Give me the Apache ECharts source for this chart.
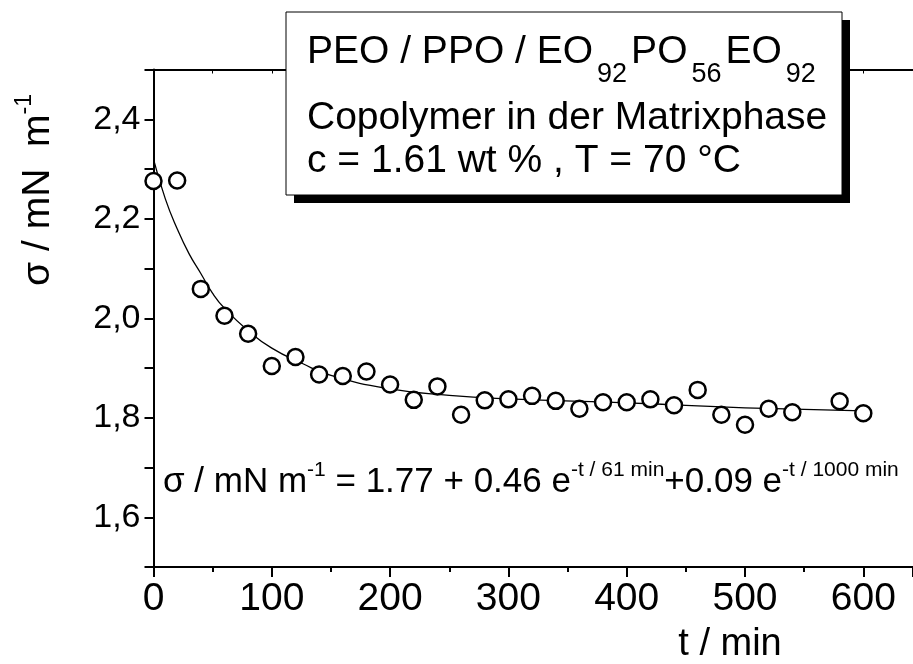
<!DOCTYPE html>
<html>
<head>
<meta charset="utf-8">
<script src="https://cdn.jsdelivr.net/npm/echarts@6/dist/echarts.min.js"></script>
<style>
  html, body { margin: 0; padding: 0; background: #fff; }
  #chart { width: 913px; height: 664px; }
</style>
</head>
<body>
<div id="chart"></div>
<script>
  // measured points
  const timeMin = [0, 20, 40, 60, 80, 100, 120, 140, 160, 180, 200, 220, 240, 260, 280,
    300, 320, 340, 360, 380, 400, 420, 440, 460, 480, 500, 520, 540, 580, 600];
  const sigma = [2.276, 2.277, 2.059, 2.005, 1.969, 1.904, 1.922, 1.887, 1.884, 1.893,
    1.867, 1.836, 1.863, 1.806, 1.835, 1.837, 1.844, 1.834, 1.818, 1.831,
    1.831, 1.837, 1.825, 1.856, 1.806, 1.786, 1.818, 1.811, 1.833, 1.809];

  // fit curve
  const fitTime = [0, 10, 20, 30, 40, 50, 60, 80, 100, 125, 150, 200, 250, 300, 400, 450, 500, 600];
  const fitSigma = [2.32, 2.24, 2.18, 2.13, 2.09, 2.05, 2.02, 1.975, 1.94, 1.91, 1.885,
    1.858, 1.845, 1.838, 1.83, 1.825, 1.82, 1.814];

  const boxLines = [
    'PEO / PPO / EO{sub|92}PO{sub|56}EO{sub|92}',
    'Copolymer in der Matrixphase',
    'c = 1.61 wt % , T = 70 °C',
  ];
  const fitLabel = 'σ / mN m{sup|-1} = 1.77 + 0.46 e{sup|-t / 61 min}+0.09 e{sup|-t / 1000 min}';
  const yTitle = 'σ / mN  m{sup|-1}';
  const xTitle = 't / min';

  const font = 'Liberation Sans, Arial, sans-serif';

  const chart = echarts.init(document.getElementById('chart'));

  chart.setOption({
    animation: false,
    backgroundColor: '#fff',
    grid: { left: 153.5, right: 0, top: 69.5, bottom: 97 },
    xAxis: [
      {
        type: 'value',
        min: 0,
        max: 642,
        interval: 100,
        axisLine: { onZero: false, lineStyle: { color: '#000', width: 2 } },
        axisTick: { length: 10, lineStyle: { color: '#000', width: 2 } },
        minorTick: { show: true, splitNumber: 2, length: 5, lineStyle: { color: '#000', width: 2 } },
        axisLabel: { color: '#000', fontSize: 39, fontFamily: font, margin: 13, showMaxLabel: false },
        splitLine: { show: false },
      },
      {
        type: 'value',
        position: 'top',
        min: 0,
        max: 642,
        interval: 100,
        axisLine: { onZero: false, lineStyle: { color: '#000', width: 2 } },
        axisTick: { inside: true, length: 4, lineStyle: { color: '#000', width: 1 } },
        minorTick: { show: true, splitNumber: 2, length: 4, lineStyle: { color: '#000', width: 1 } },
        axisLabel: { show: false },
        splitLine: { show: false },
      },
    ],
    yAxis: {
      type: 'value',
      min: 1.5,
      max: 2.5,
      interval: 0.1,
      axisLine: { onZero: false, lineStyle: { color: '#000', width: 2 } },
      axisTick: { length: 9, lineStyle: { color: '#000', width: 2 } },
      axisLabel: {
        color: '#000',
        fontSize: 34,
        fontFamily: font,
        margin: 13,
        formatter: (v) => (Math.round(v * 10) % 2 === 0 ? v.toFixed(1).replace('.', ',') : ''),
      },
      splitLine: { show: false },
    },
    series: [
      {
        type: 'line',
        data: fitTime.map((t, i) => [t, fitSigma[i]]),
        smooth: true,
        showSymbol: false,
        lineStyle: { color: '#000', width: 1.3 },
        z: 2,
      },
      {
        type: 'scatter',
        data: timeMin.map((t, i) => [t, sigma[i]]),
        symbol: 'circle',
        symbolSize: 16,
        clip: false,
        itemStyle: { color: '#fff', borderColor: '#000', borderWidth: 2.5, opacity: 1 },
        z: 3,
      },
    ],
    graphic: [
      { type: 'rect', shape: { x: 294, y: 20, width: 556, height: 183 }, style: { fill: '#000' }, z: 10 },
      { type: 'rect', shape: { x: 286, y: 12, width: 556, height: 183 }, style: { fill: '#fff', stroke: '#000', lineWidth: 1 }, z: 11 },
      ...boxLines.map((txt, i) => ({
        type: 'text',
        x: 307,
        y: [52, 118, 161][i],
        z: 12,
        style: {
          text: txt,
          font: '39px ' + font,
          fill: '#000',
          verticalAlign: 'middle',
          rich: {
            sub: { fontSize: 27, fontFamily: font, fill: '#000', verticalAlign: 'bottom', padding: [46, 4, 0, 4] },
          },
        },
      })),
      {
        type: 'text',
        x: 163,
        y: 482,
        z: 12,
        style: {
          text: fitLabel,
          font: '35px ' + font,
          fill: '#000',
          verticalAlign: 'middle',
          rich: {
            sup: { fontSize: 21, fontFamily: font, fill: '#000', verticalAlign: 'top', padding: [0, 0, 24, 0] },
          },
        },
      },
      {
        type: 'text',
        x: 38,
        y: 190,
        rotation: Math.PI / 2,
        z: 12,
        style: {
          text: yTitle,
          font: '39px ' + font,
          fill: '#000',
          align: 'center',
          verticalAlign: 'middle',
          rich: {
            sup: { fontSize: 23, fontFamily: font, fill: '#000', verticalAlign: 'top', padding: [0, 0, 26, 0] },
          },
        },
      },
      {
        type: 'text',
        x: 730,
        y: 645,
        z: 12,
        style: { text: xTitle, font: '38px ' + font, fill: '#000', align: 'center', verticalAlign: 'middle' },
      },
    ],
  });
</script>
</body>
</html>
